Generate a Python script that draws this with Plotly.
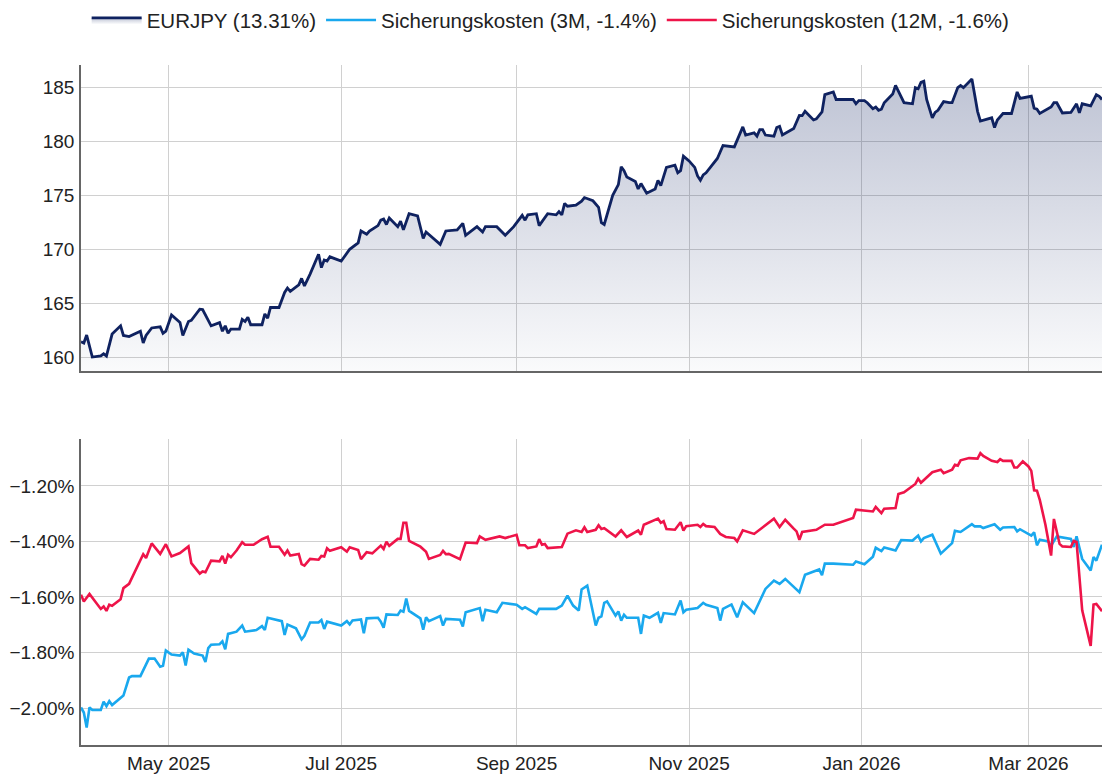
import pandas as pd
import plotly.graph_objects as go
from plotly.subplots import make_subplots

base_date = "2025-03-31"

# EURJPY spot (day offset from base_date, value)
eurjpy_days = [0, 1, 2, 4, 7, 8, 9, 11, 14, 15, 17, 21, 22, 23, 25, 28, 29, 30, 32, 35,
               36, 38, 39, 42, 43, 46, 49, 50, 51, 52, 53, 56, 57, 58, 59, 60, 64, 65, 66, 67,
               70, 72, 73, 74, 77, 78, 79, 81, 84, 85, 86, 87, 88, 92, 95, 98, 99, 101, 102, 105,
               106, 107, 108, 109, 112, 113, 114, 116, 119, 121, 122, 127, 129, 133, 135, 136, 140, 142, 143, 147,
               150, 153, 156, 157, 158, 161, 162, 165, 168, 169, 170, 171, 172, 175, 177, 178, 181, 183, 184, 185,
               188, 190, 191, 192, 193, 196, 197, 198, 200, 203, 204, 205, 207, 210, 211, 212, 213, 215, 217, 218,
               219, 220, 221, 225, 227, 231, 234, 235, 238, 239, 240, 241, 242, 245, 246, 247, 248, 252, 254, 255,
               256, 259, 260, 262, 263, 266, 267, 273, 274, 275, 277, 278, 280, 281, 282, 283, 284, 287, 288, 289,
               291, 294, 295, 296, 297, 298, 299, 301, 302, 303, 305, 307, 308, 310, 311, 312, 315, 317, 318, 322,
               323, 324, 326, 329, 331, 332, 336, 337, 338, 339, 343, 344, 345, 347, 350, 352, 353, 354, 357, 359,
               360, 361]
eurjpy_vals = [161.42, 161.3, 162.04, 160.0, 160.1, 160.3, 160.1, 162.13, 162.9, 162.0, 161.9, 162.4, 161.3, 162.0, 162.7, 162.8, 162.2, 162.4, 163.9, 163.2,
               162.0, 163.3, 163.4, 164.44, 164.4, 162.9, 163.2, 162.4, 162.9, 162.2, 162.6, 162.6, 163.5, 163.3, 163.7, 163.0, 163.0, 164.0, 163.6, 164.6,
               164.6, 166.0, 166.4, 166.1, 166.7, 167.3, 166.6, 167.7, 169.54, 168.3, 169.0, 168.9, 169.3, 168.9, 170.0, 170.6, 171.7, 171.4, 171.7, 172.2,
               172.7, 172.8, 172.3, 172.9, 172.1, 172.6, 171.8, 173.3, 173.1, 171.0, 171.6, 170.46, 171.7, 171.8, 172.4, 171.3, 172.1, 171.6, 172.1, 172.1,
               171.3, 172.1, 173.15, 172.7, 173.2, 173.3, 172.2, 173.3, 173.2, 173.5, 173.2, 174.26, 174.0, 174.1, 174.47, 174.8, 174.5, 173.9, 172.47, 172.3,
               175.0, 176.0, 177.66, 177.3, 176.7, 176.3, 175.6, 176.1, 175.2, 175.6, 176.4, 175.9, 177.6, 177.8, 177.1, 177.3, 178.64, 178.2, 177.6, 176.8,
               176.4, 176.9, 177.1, 178.43, 179.63, 179.5, 181.36, 180.6, 180.8, 180.5, 181.1, 181.1, 180.6, 180.5, 181.3, 181.4, 180.6, 181.2, 182.41, 182.4,
               182.8, 182.0, 182.1, 182.75, 184.35, 184.6, 183.9, 183.9, 183.5, 183.8, 183.8, 183.6, 183.05, 183.2, 182.9, 183.0, 183.6, 184.4, 185.2, 184.7,
               183.6, 183.5, 185.0, 184.9, 185.5, 185.6, 183.9, 182.2, 182.7, 182.9, 183.7, 183.6, 183.6, 185.0, 185.2, 185.0, 185.8, 182.8, 181.9, 182.2,
               181.3, 182.0, 182.6, 182.6, 184.6, 184.0, 184.2, 183.1, 183.0, 182.6, 183.2, 183.6, 183.6, 182.65, 182.7, 183.5, 182.65, 183.5, 183.3, 184.35,
               184.2, 183.9]

# Sicherungskosten 3M (% p.a.)
h3m_days = [0, 1, 2, 3, 4, 7, 8, 9, 10, 11, 15, 17, 18, 21, 24, 26, 28, 29, 30, 32,
            35, 36, 37, 38, 40, 43, 44, 45, 46, 49, 50, 51, 52, 55, 57, 58, 62, 64, 65, 66,
            71, 72, 73, 76, 78, 79, 81, 84, 85, 86, 87, 92, 94, 95, 96, 99, 100, 101, 105, 106,
            107, 108, 112, 113, 114, 115, 116, 120, 121, 122, 123, 127, 128, 129, 134, 135, 136, 141, 142, 143,
            147, 149, 154, 156, 157, 161, 162, 168, 170, 172, 174, 176, 177, 179, 182, 183, 184, 185, 186, 189,
            190, 191, 192, 193, 197, 198, 199, 201, 204, 205, 206, 210, 212, 213, 214, 218, 220, 221, 225, 226,
            227, 230, 232, 234, 238, 242, 245, 247, 249, 254, 256, 261, 262, 263, 266, 273, 274, 277, 280, 281,
            283, 284, 288, 290, 294, 296, 297, 298, 301, 304, 308, 309, 311, 315, 316, 318, 319, 323, 325, 326,
            330, 331, 332, 336, 337, 338, 339, 342, 343, 345, 350, 351, 352, 354, 357, 358, 359, 361]
h3m_vals = [-1.998, -2.016, -2.070, -1.998, -2.007, -2.007, -1.977, -1.993, -1.975, -1.989, -1.955, -1.890, -1.885, -1.885, -1.822, -1.822, -1.851, -1.848, -1.793, -1.807,
            -1.811, -1.799, -1.847, -1.790, -1.804, -1.811, -1.834, -1.784, -1.772, -1.770, -1.760, -1.788, -1.733, -1.725, -1.703, -1.725, -1.719, -1.705, -1.719, -1.675,
            -1.687, -1.737, -1.699, -1.713, -1.753, -1.740, -1.692, -1.692, -1.683, -1.715, -1.689, -1.703, -1.687, -1.699, -1.685, -1.681, -1.731, -1.677, -1.675, -1.689,
            -1.711, -1.663, -1.665, -1.649, -1.653, -1.606, -1.650, -1.677, -1.718, -1.673, -1.687, -1.669, -1.703, -1.679, -1.682, -1.706, -1.655, -1.640, -1.687, -1.646,
            -1.655, -1.621, -1.628, -1.643, -1.637, -1.661, -1.643, -1.643, -1.631, -1.595, -1.631, -1.649, -1.573, -1.559, -1.703, -1.675, -1.670, -1.621, -1.616, -1.667,
            -1.652, -1.685, -1.664, -1.675, -1.675, -1.733, -1.667, -1.675, -1.657, -1.693, -1.658, -1.663, -1.613, -1.655, -1.646, -1.640, -1.621, -1.628, -1.640, -1.685,
            -1.643, -1.627, -1.673, -1.619, -1.658, -1.571, -1.541, -1.553, -1.535, -1.583, -1.520, -1.501, -1.522, -1.480, -1.480, -1.484, -1.472, -1.482, -1.455, -1.423,
            -1.435, -1.422, -1.433, -1.395, -1.397, -1.379, -1.400, -1.388, -1.376, -1.444, -1.406, -1.362, -1.366, -1.338, -1.346, -1.346, -1.352, -1.338, -1.358, -1.350,
            -1.348, -1.364, -1.356, -1.379, -1.367, -1.414, -1.394, -1.400, -1.416, -1.382, -1.391, -1.420, -1.382, -1.463, -1.505, -1.456, -1.469, -1.412]

# Sicherungskosten 12M (% p.a.)
h12m_days = [0, 1, 3, 7, 8, 9, 10, 11, 14, 15, 17, 22, 23, 25, 28, 30, 32, 35, 38, 39,
             42, 43, 44, 46, 49, 50, 51, 52, 53, 55, 57, 58, 61, 64, 66, 67, 70, 72, 73, 74,
             77, 78, 79, 81, 84, 85, 86, 87, 88, 92, 94, 95, 98, 99, 101, 103, 106, 107, 108, 109,
             112, 113, 114, 115, 116, 120, 122, 123, 127, 128, 129, 130, 134, 136, 140, 141, 143, 148, 150, 154,
             155, 157, 158, 161, 162, 163, 164, 165, 170, 172, 175, 177, 178, 179, 182, 183, 184, 185, 189, 191,
             193, 197, 198, 199, 204, 205, 206, 207, 210, 212, 213, 214, 218, 219, 220, 221, 224, 226, 228, 231,
             232, 234, 238, 242, 245, 247, 249, 252, 253, 254, 255, 260, 263, 266, 273, 274, 280, 281, 283, 284,
             288, 289, 291, 295, 296, 297, 301, 304, 305, 308, 309, 310, 311, 314, 317, 318, 319, 322, 324, 325,
             326, 329, 330, 331, 333, 335, 336, 337, 338, 339, 341, 343, 344, 346, 347, 350, 351, 352, 354, 357,
             358, 359, 361]
h12m_vals = [-1.592, -1.616, -1.589, -1.643, -1.634, -1.650, -1.628, -1.632, -1.608, -1.568, -1.553, -1.446, -1.460, -1.407, -1.445, -1.410, -1.454, -1.442, -1.418, -1.478,
             -1.516, -1.508, -1.511, -1.469, -1.472, -1.452, -1.480, -1.448, -1.457, -1.433, -1.403, -1.412, -1.412, -1.392, -1.383, -1.419, -1.419, -1.448, -1.433, -1.451,
             -1.445, -1.482, -1.487, -1.463, -1.466, -1.452, -1.454, -1.425, -1.434, -1.421, -1.437, -1.421, -1.431, -1.464, -1.439, -1.443, -1.415, -1.427, -1.401, -1.416,
             -1.391, -1.391, -1.333, -1.333, -1.398, -1.419, -1.437, -1.463, -1.449, -1.434, -1.446, -1.445, -1.464, -1.404, -1.406, -1.382, -1.394, -1.382, -1.388, -1.376,
             -1.414, -1.414, -1.424, -1.418, -1.392, -1.412, -1.409, -1.424, -1.420, -1.372, -1.360, -1.366, -1.349, -1.366, -1.358, -1.342, -1.355, -1.352, -1.382, -1.360,
             -1.384, -1.361, -1.376, -1.340, -1.318, -1.333, -1.327, -1.355, -1.358, -1.331, -1.361, -1.345, -1.340, -1.348, -1.337, -1.345, -1.348, -1.373, -1.384, -1.388,
             -1.400, -1.360, -1.373, -1.340, -1.318, -1.348, -1.322, -1.354, -1.364, -1.394, -1.366, -1.358, -1.340, -1.340, -1.316, -1.286, -1.292, -1.276, -1.298, -1.282,
             -1.280, -1.229, -1.223, -1.193, -1.174, -1.189, -1.151, -1.142, -1.154, -1.142, -1.124, -1.127, -1.108, -1.100, -1.102, -1.082, -1.092, -1.110, -1.114, -1.104,
             -1.110, -1.110, -1.134, -1.134, -1.112, -1.130, -1.146, -1.216, -1.217, -1.250, -1.340, -1.451, -1.319, -1.409, -1.418, -1.420, -1.398, -1.402, -1.648, -1.776,
             -1.627, -1.625, -1.651]

names = ["EURJPY (13.31%)", "Sicherungskosten (3M, -1.4%)", "Sicherungskosten (12M, -1.6%)"]
colors = ["#0f2260", "#19a8ee", "#ee1449"]
x_range = ["2025-03-31", "2026-03-27"]
y1_range = [158.7, 187.1]
y2_range = [-2.133, -1.031]


def to_dates(days):
    return pd.Timestamp(base_date) + pd.to_timedelta(days, unit="D")


fig = make_subplots(rows=2, cols=1, shared_xaxes=True, vertical_spacing=0.0998)

fig.add_trace(go.Scatter(
    x=to_dates(eurjpy_days), y=eurjpy_vals, name=names[0], mode="lines",
    line=dict(color=colors[0], width=2.8),
    fill="tozeroy",
    fillgradient=dict(type="vertical", start=y1_range[0], stop=186.0,
                      colorscale=[[0, "rgba(15,34,96,0.02)"], [1, "rgba(15,34,96,0.27)"]]),
), row=1, col=1)

fig.add_trace(go.Scatter(
    x=to_dates(h3m_days), y=h3m_vals, name=names[1], mode="lines",
    line=dict(color=colors[1], width=2.6),
), row=2, col=1)

fig.add_trace(go.Scatter(
    x=to_dates(h12m_days), y=h12m_vals, name=names[2], mode="lines",
    line=dict(color=colors[2], width=2.6),
), row=2, col=1)

font = dict(family="Liberation Sans, Arial, sans-serif", size=19, color="#222222")
grid = "#d0d0d0"
axline = "#666666"

fig.update_xaxes(range=x_range, type="date", dtick="M2", tick0="2025-01-01",
                 tickformat="%b %Y", showgrid=True, gridcolor=grid, gridwidth=1,
                 showline=True, linecolor=axline, linewidth=1.5, ticks="",
                 zeroline=False, tickfont=font)
fig.update_xaxes(showticklabels=False, row=1, col=1)
fig.update_yaxes(showgrid=True, gridcolor=grid, gridwidth=1, showline=True,
                 linecolor=axline, linewidth=1.5, ticks="", zeroline=False,
                 tickfont=font, ticklabelstandoff=1)
fig.update_yaxes(range=y1_range, dtick=5, tick0=0, row=1, col=1)
fig.update_yaxes(range=y2_range, dtick=0.2, tick0=0, tickformat=".2f",
                 ticksuffix="%", row=2, col=1)

fig.update_layout(
    width=1102, height=774,
    margin=dict(l=81, r=0, t=65, b=27),
    paper_bgcolor="white", plot_bgcolor="white",
    font=font,
    showlegend=True,
    legend=dict(orientation="h", x=0.46, xanchor="center", y=1.066, yanchor="middle",
                font=dict(family="Liberation Sans, Arial, sans-serif", size=20.5, color="#222222"),
                itemwidth=50, traceorder="normal"),
)

fig.write_html("out.html", config={"displayModeBar": False},
               post_script="document.body.style.margin='0';")
